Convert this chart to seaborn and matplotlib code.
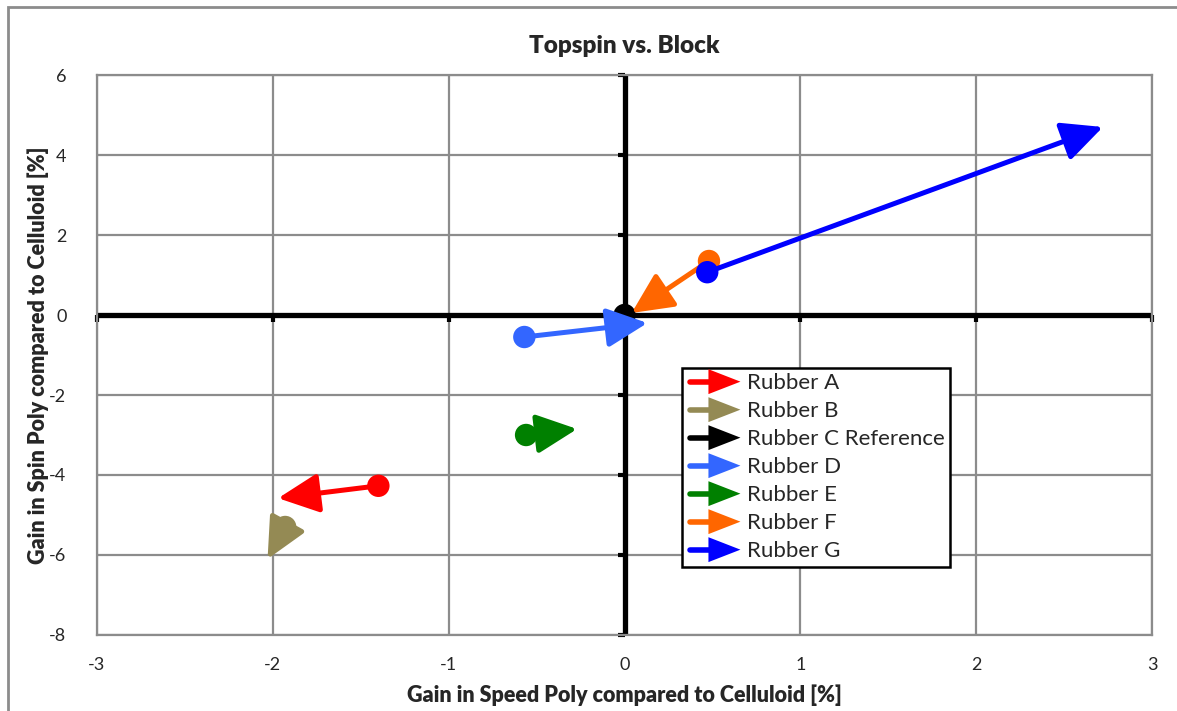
import matplotlib
matplotlib.use("Agg")
import matplotlib.pyplot as plt
import seaborn as sns
import pandas as pd
from matplotlib.lines import Line2D
from matplotlib.patches import Polygon, Rectangle

# Données : point de départ (cercle) et pointe de la flèche
rubbers = ["Rubber A", "Rubber B", "Rubber C Reference", "Rubber D",
           "Rubber E", "Rubber F", "Rubber G"]
speed_start = [-1.40, -1.93, 0.00, -0.57, -0.56, 0.48, 0.47]
spin_start = [-4.27, -5.30, 0.00, -0.55, -3.00, 1.35, 1.07]
speed_end = [-1.97, -2.03, 0.00, 0.13, -0.27, 0.04, 2.72]
spin_end = [-4.58, -6.10, 0.00, -0.20, -2.85, 0.05, 4.70]
colors = ["#FF0000", "#948A54", "#000000", "#3366FF",
          "#008000", "#FF6600", "#0000FF"]

x_ticks = [-3, -2, -1, 0, 1, 2, 3]
y_ticks = [-8, -6, -4, -2, 0, 2, 4, 6]

df = pd.DataFrame({"rubber": rubbers, "x0": speed_start, "y0": spin_start,
                   "x1": speed_end, "y1": spin_end})


class ArrowHandler:
    """Dessine une petite flèche dans la légende."""
    def legend_artist(self, legend, orig_handle, fontsize, handlebox):
        x0, y0 = handlebox.xdescent, handlebox.ydescent
        w, h = handlebox.width, handlebox.height
        c = orig_handle.get_color()
        yc = y0 + h / 2
        line = Line2D([x0 + 2, x0 + w * 0.5], [yc, yc], color=c, lw=4,
                      solid_capstyle="round")
        tri = Polygon([[x0 + w * 0.4, yc - h * 0.8],
                       [x0 + w * 0.4, yc + h * 0.8],
                       [x0 + w, yc]], closed=True, color=c, lw=0)
        handlebox.add_artist(line)
        handlebox.add_artist(tri)
        return tri


sns.set_theme(style="white")
plt.rcParams["font.family"] = ["Lato", "DejaVu Sans"]
plt.rcParams["axes.unicode_minus"] = False

fig = plt.figure(figsize=(11.77, 7.11), dpi=100)
ax = fig.add_axes([0.0824, 0.1069, 0.8965, 0.7876])

# Grille
for xv in x_ticks:
    ax.axvline(xv, color="#8C8C8C", lw=1.6, zorder=0)
for yv in y_ticks:
    ax.axhline(yv, color="#8C8C8C", lw=1.6, zorder=0)

# Axes épais à zéro
ax.axhline(0, color="black", lw=3.8, zorder=1)
ax.axvline(0, color="black", lw=3.8, zorder=1)
ax.plot([0] * len(y_ticks), y_ticks, ls="none", marker=0, ms=5, mew=3,
        color="black", zorder=1, clip_on=False)
ax.plot(x_ticks, [0] * len(x_ticks), ls="none", marker=3, ms=5, mew=3,
        color="black", zorder=1, clip_on=False)

# Série par série : flèche puis cercle (comme dans Excel)
for i, row in df.iterrows():
    c = colors[i]
    if (row.x0, row.y0) != (row.x1, row.y1):
        ax.annotate("", xy=(row.x1, row.y1), xytext=(row.x0, row.y0),
                    arrowprops=dict(arrowstyle="-|>,head_length=1.25,head_width=0.6",
                                    mutation_scale=20, lw=3.6, color=c,
                                    shrinkA=0, shrinkB=0),
                    zorder=3 + 2 * i)
    sns.scatterplot(x=[row.x0], y=[row.y0], color=c, s=260, edgecolor="none",
                    ax=ax, zorder=4 + 2 * i, legend=False)

ax.set_xlim(-3, 3)
ax.set_ylim(-8, 6)
ax.set_xticks(x_ticks)
ax.set_yticks(y_ticks)
ax.tick_params(axis="both", labelsize=13, length=0)
ax.tick_params(axis="x", pad=16)
ax.tick_params(axis="y", pad=22)
for s in ax.spines.values():
    s.set_color("#8C8C8C")
    s.set_linewidth(1.6)

ax.set_title("Topspin vs. Block", fontsize=17.5, fontweight="heavy", pad=16)
ax.set_xlabel("Gain in Speed Poly compared to Celluloid [%]", fontsize=15.5,
              fontweight="heavy", labelpad=8)
ax.set_ylabel("Gain in Spin Poly compared to Celluloid [%]", fontsize=15.5,
              fontweight="heavy", labelpad=0)

handles = [Line2D([], [], color=c) for c in colors]
leg = ax.legend(handles, rubbers, loc="upper left",
                bbox_to_anchor=(0.554, 0.477), fontsize=16,
                handler_map={Line2D: ArrowHandler()},
                handlelength=2.4, handletextpad=0.3, labelspacing=0.36,
                borderpad=0.25, fancybox=False, framealpha=1,
                edgecolor="black", borderaxespad=0)
leg.get_frame().set_linewidth(1.8)
leg.set_zorder(30)

# Cadre extérieur du graphique
fig.patches.append(Rectangle((0.007, -0.01), 1.1, 1.0, transform=fig.transFigure,
                             fill=False, edgecolor="#8C8C8C", lw=2))

fig.savefig("out.png", dpi=100)
